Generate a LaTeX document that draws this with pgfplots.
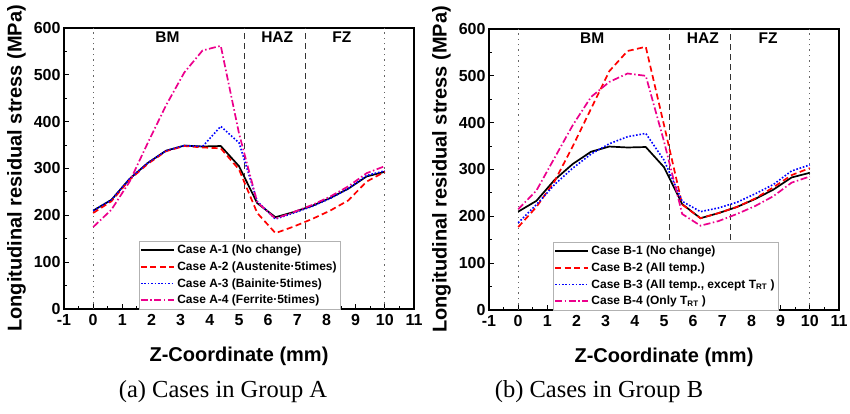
\documentclass[border=0pt]{standalone}
\usepackage{fontspec}
\setmainfont{Liberation Sans}
\newfontfamily\capfont{Liberation Serif}
\usepackage{pgfplots}
\usepackage{pgfplotstable}
\pgfplotsset{compat=1.18}

% z (mm) and stress (MPa)
\pgfplotstableread{
x     a1   a2   a3   a4
0     210  205  210  175
0.625 233  230  233  212
1.25  278  276  278  272
1.875 312  310  312  355
2.5   338  337  338  435
3.125 349  348  349  505
3.75  347  345  347  552
4.375 348  343  390  562
5.0   305  298  355  375
5.625 226  205  230  228
6.25  196  162  192  193
6.875 207  176  205  207
7.5   220  192  219  222
8.125 237  210  236  240
8.75  257  232  257  262
9.375 283  272  285  290
10    293  293  295  305
}\groupA

\pgfplotstableread{
x     b1   b2   b3   b4
0     210  177  186  215
0.625 233  220  225  255
1.25  278  275  268  325
1.875 312  350  303  395
2.5   338  430  333  455
3.125 349  510  355  487
3.75  347  553  370  505
4.375 348  562  377  500
5.0   305  395  320  360
5.625 226  225  232  205
6.25  196  196  210  180
6.875 207  207  218  190
7.5   220  220  230  205
8.125 237  238  248  222
8.75  257  262  268  243
9.375 283  288  297  272
10    293  303  310  285
}\groupB

\tikzset{
  c1/.style={black, line width=1.7pt},
  c2/.style={red, line width=1.7pt, dash pattern=on 6pt off 3.5pt},
  c3/.style={blue, line width=1.6pt, dash pattern=on 1.6pt off 1.8pt},
  c4/.style={magenta, line width=1.7pt, dash pattern=on 7pt off 2.5pt on 1.5pt off 2.5pt},
  zone/.style={black!80, line width=1.2pt, dash pattern=on 6pt off 4pt},
  edge/.style={gray!80!black, line width=1.3pt, dash pattern=on 1.4pt off 4pt},
  zonelbl/.style={font=\fontsize{15.5}{15.5}\selectfont\bfseries},
}

\pgfplotsset{
  panel/.style={
    scale only axis, width=350pt, height=281pt, anchor=south west,
    xmin=-1, xmax=11, ymin=0, ymax=600,
    xtick={-1,0,...,11}, ytick={0,100,...,600},
    minor x tick num=1, minor y tick num=1,
    tick align=inside, xtick pos=bottom, ytick pos=left,
    major tick length=5pt, minor tick length=3pt,
    every tick/.style={black, line width=1pt},
    axis line style={line width=1.5pt},
    /pgf/number format/assume math mode=true,
    ticklabel style={font=\fontsize{16}{16}\selectfont\bfseries},
    xticklabel style={yshift=-2pt},
    xlabel={Z-Coordinate (mm)},
    ylabel={Longitudinal residual stress (MPa)},
    label style={font=\fontsize{20}{20}\selectfont\bfseries},
    xlabel style={at={(axis description cs:0.5,-0.168)}, anchor=center},
    ylabel style={at={(axis description cs:-0.136,0.5)}, anchor=center},
    legend cell align=left,
    legend style={font=\fontsize{12}{14}\selectfont\bfseries, draw=gray!60,
      fill=white, anchor=south west, inner sep=1pt,
      row sep=1.5pt, nodes={inner sep=2.5pt}},
    legend image code/.code={\draw[##1] (0pt,0pt) -- (33pt,0pt);},
  },
}

\begin{document}
\begin{tikzpicture}
\useasboundingbox (0,0) rectangle (850pt,414pt);

\begin{axis}[panel, at={(64pt,105pt)},
  legend style={at={(rel axis cs:0.214,0)}}]
\draw[edge] (axis cs:0,0) -- (axis cs:0,600);
\draw[edge] (axis cs:10,0) -- (axis cs:10,600);
\draw[zone] (axis cs:5.18,0) -- (axis cs:5.18,600);
\draw[zone] (axis cs:7.27,0) -- (axis cs:7.27,600);
\node[zonelbl] at (axis cs:2.55,580) {BM};
\node[zonelbl] at (axis cs:6.31,580) {HAZ};
\node[zonelbl] at (axis cs:8.53,580) {FZ};
\addplot[c1] table[x=x,y=a1] {\groupA};
\addplot[c2] table[x=x,y=a2] {\groupA};
\addplot[c3] table[x=x,y=a3] {\groupA};
\addplot[c4] table[x=x,y=a4] {\groupA};
\legend{Case A-1 (No change), Case A-2 (Austenite·5times),
  Case A-3 (Bainite·5times), Case A-4 (Ferrite·5times)}
\end{axis}

\begin{axis}[panel, at={(489pt,104pt)},
  legend style={at={(rel axis cs:0.183,0)}}]
\draw[edge] (axis cs:0,0) -- (axis cs:0,600);
\draw[edge] (axis cs:10,0) -- (axis cs:10,600);
\draw[zone] (axis cs:5.2,0) -- (axis cs:5.2,600);
\draw[zone] (axis cs:7.29,0) -- (axis cs:7.29,600);
\node[zonelbl] at (axis cs:2.54,580) {BM};
\node[zonelbl] at (axis cs:6.33,580) {HAZ};
\node[zonelbl] at (axis cs:8.57,580) {FZ};
\addplot[c1] table[x=x,y=b1] {\groupB};
\addplot[c2] table[x=x,y=b2] {\groupB};
\addplot[c3] table[x=x,y=b3] {\groupB};
\addplot[c4] table[x=x,y=b4] {\groupB};
\legend{Case B-1 (No change), Case B-2 (All temp.),
  {Case B-3 (All temp., except T\textsubscript{RT} )},
  Case B-4 (Only T\textsubscript{RT} )}
\end{axis}

\node[font=\capfont\fontsize{24.5}{24.5}\selectfont] at (223pt,22pt) {(a) Cases in Group A};
\node[font=\capfont\fontsize{24.5}{24.5}\selectfont] at (599pt,22pt) {(b) Cases in Group B};
\end{tikzpicture}
\end{document}
